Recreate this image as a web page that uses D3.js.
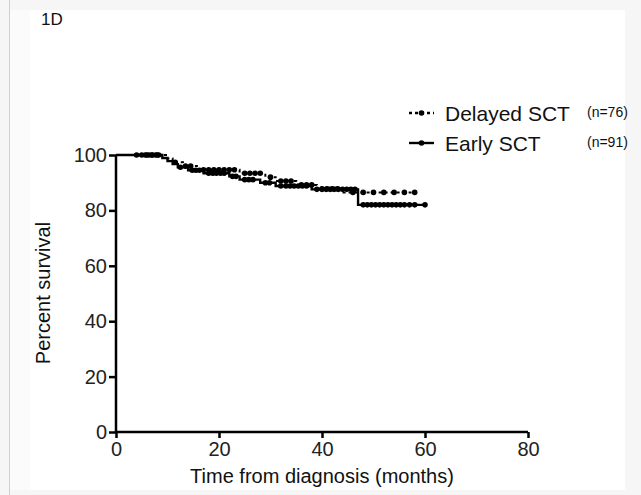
<!DOCTYPE html>
<html>
<head>
<meta charset="utf-8">
<script src="https://cdn.jsdelivr.net/npm/d3@7"></script>
<style>
    body { margin: 0; background: #f6f6f6; }
    svg { display: block; font-family: "Liberation Sans", Arial, sans-serif; }
</style>
</head>
<body>
<script>
(function () {
    // Kaplan-Meier steps
    var earlyTimes = [0, 9, 10, 11, 12, 14, 17, 22, 24, 28, 31, 38, 47, 60];
    var earlySurv = [100, 98.9, 97.8, 96.7, 95.6, 94.5, 93.4, 92.3, 91.1, 90.0, 88.8, 87.6, 82.0, 82.0];
    var earlyCensor = [5, 5.7, 6.4, 7, 7.7, 8.3, 12.5, 14.8, 15.5, 16.2, 18, 18.8, 19.5, 20.3, 21, 22.6,
        23.3, 25, 25.8, 26.6, 29, 29.8, 32, 33, 33.8, 34.6, 35.4, 36.2, 37, 39, 40, 40.8, 41.6, 42.4,
        43.2, 44, 44.8, 45.6, 46.4, 48, 48.8, 49.6, 50.4, 51.2, 52, 52.8, 53.6, 54.4, 55.2, 56, 57, 58, 60];

    var delayedTimes = [0, 10, 11, 13, 16, 24, 29, 31, 35, 39, 44, 58];
    var delayedSurv = [100, 98.7, 97.4, 96.0, 94.7, 93.4, 92.0, 90.6, 89.2, 87.8, 86.5, 86.5];
    var delayedCensor = [4, 6, 7, 8, 11.5, 13.5, 14.5, 17, 18, 19, 20, 21, 22, 23, 25, 26, 27, 28,
        30, 32, 33, 34, 36, 37, 38, 40, 41, 42, 43, 46, 48, 50, 52, 54, 56, 58];

    var xTicks = [0, 20, 40, 60, 80];
    var yTicks = [0, 20, 40, 60, 80, 100];

    var width = 641;
    var height = 495;

    var svg = d3.select("body")
        .append("svg")
        .attr("width", width)
        .attr("height", height);

    // Page frame
    svg.append("rect").attr("width", width).attr("height", height).attr("fill", "#f6f6f6");
    svg.append("rect").attr("x", 10).attr("y", 10).attr("width", 615).attr("height", 480).attr("fill", "#fbfbfb");
    svg.append("rect").attr("x", 30).attr("y", 10).attr("width", 595).attr("height", 480).attr("fill", "#ffffff");
    svg.append("line").attr("x1", 9.5).attr("x2", 9.5).attr("y1", 0).attr("y2", height)
        .attr("stroke", "#d0d0d0");

    svg.append("text")
        .attr("x", 41)
        .attr("y", 25)
        .attr("font-size", 17)
        .attr("fill", "#111")
        .text("1D");

    // Scales
    var x = d3.scaleLinear().domain([0, 80]).range([116, 528]);
    var y = d3.scaleLinear().domain([0, 100]).range([432, 155]);

    // Axes
    var xAxis = svg.append("g")
        .attr("transform", "translate(0,432)")
        .call(d3.axisBottom(x).tickValues(xTicks).tickSize(6).tickPadding(4));
    var yAxis = svg.append("g")
        .attr("transform", "translate(116,0)")
        .call(d3.axisLeft(y).tickValues(yTicks).tickSize(7).tickPadding(2));

    [xAxis, yAxis].forEach(function (g) {
        g.select(".domain").attr("stroke", "#000").attr("stroke-width", 2.5);
        g.selectAll(".tick line").attr("stroke", "#000").attr("stroke-width", 2.5);
        g.selectAll(".tick text")
            .attr("font-size", 20)
            .attr("fill", "#222")
            .attr("font-family", "Liberation Sans, Arial, sans-serif");
    });
    xAxis.select(".domain").attr("d", "M116,0H528");
    yAxis.select(".domain").attr("d", "M0,432V155");

    // Axis titles
    svg.append("text")
        .attr("x", 322)
        .attr("y", 483)
        .attr("text-anchor", "middle")
        .attr("font-size", 20)
        .attr("fill", "#111")
        .text("Time from diagnosis (months)");

    svg.append("text")
        .attr("transform", "translate(50,293) rotate(-90)")
        .attr("text-anchor", "middle")
        .attr("font-size", 20)
        .attr("fill", "#111")
        .text("Percent survival");

    // Step value at a given time
    function survAt(times, surv, t) {
        var v = surv[0];
        for (var i = 0; i < times.length; i++) {
            if (times[i] <= t) v = surv[i];
        }
        return v;
    }

    var stepLine = d3.line()
        .x(function (d) { return x(d[0]); })
        .y(function (d) { return y(d[1]); })
        .curve(d3.curveStepAfter);

    function drawCurve(times, surv, censor, dash, width) {
        var pts = times.map(function (t, i) { return [t, surv[i]]; });
        svg.append("path")
            .datum(pts)
            .attr("d", stepLine)
            .attr("fill", "none")
            .attr("stroke", "#000")
            .attr("stroke-width", width)
            .attr("stroke-dasharray", dash);

        svg.selectAll(null)
            .data(censor)
            .enter()
            .append("circle")
            .attr("cx", function (d) { return x(d); })
            .attr("cy", function (d) { return y(survAt(times, surv, d)); })
            .attr("r", 2.8)
            .attr("fill", "#000");
    }

    drawCurve(delayedTimes, delayedSurv, delayedCensor, "3,3", 2);
    drawCurve(earlyTimes, earlySurv, earlyCensor, null, 2.4);

    // Legend
    var legend = [
        { label: "Delayed SCT", n: "(n=76)", dash: "3,3", y: 113 },
        { label: "Early SCT", n: "(n=91)", dash: null, y: 143 }
    ];
    legend.forEach(function (d) {
        svg.append("line")
            .attr("x1", 409).attr("x2", 434)
            .attr("y1", d.y).attr("y2", d.y)
            .attr("stroke", "#000")
            .attr("stroke-width", 2.4)
            .attr("stroke-dasharray", d.dash);
        svg.append("circle")
            .attr("cx", 421.5).attr("cy", d.y).attr("r", 2.8).attr("fill", "#000");
        svg.append("text")
            .attr("x", 445).attr("y", d.y + 7.5)
            .attr("font-size", 21)
            .attr("fill", "#111")
            .text(d.label);
        svg.append("text")
            .attr("x", 587).attr("y", d.y + 4)
            .attr("font-size", 14)
            .attr("fill", "#111")
            .text(d.n);
    });
})();
</script>
</body>
</html>
